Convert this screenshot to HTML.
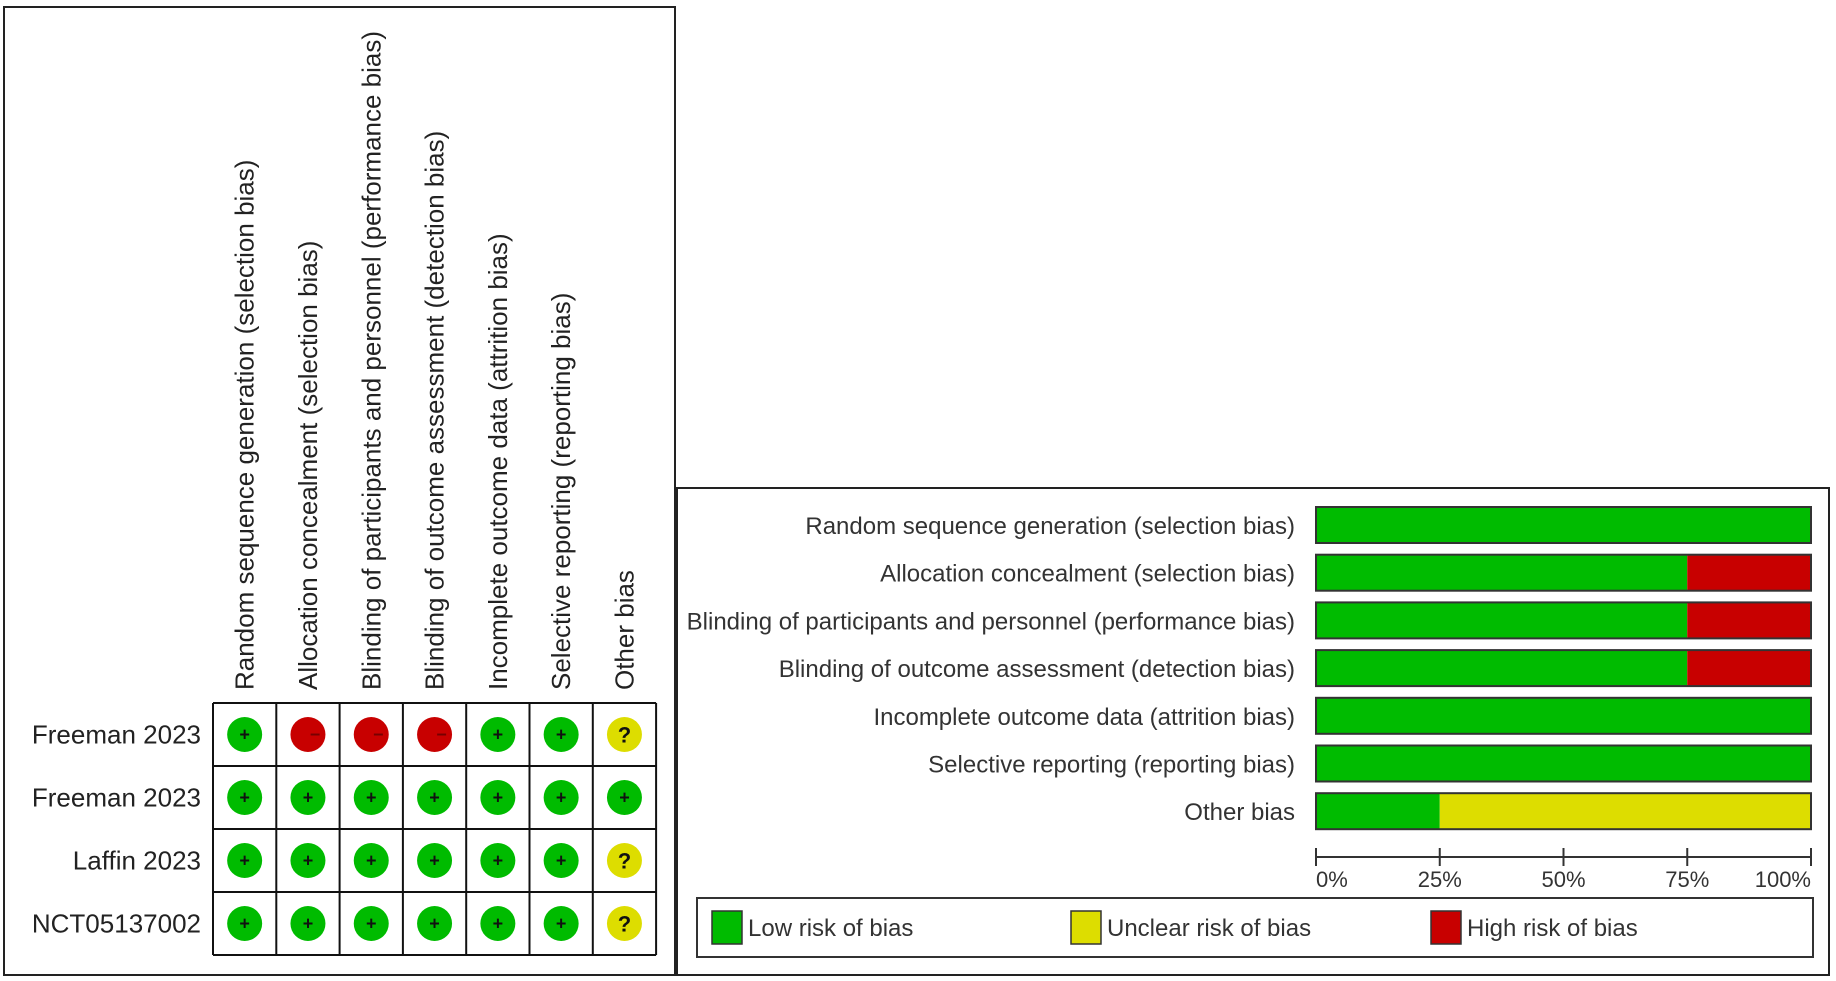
<!DOCTYPE html>
<html><head><meta charset="utf-8"><style>
html,body{margin:0;padding:0;background:#fff;}
svg{display:block;font-family:"Liberation Sans",Arial,sans-serif;}
</style></head><body>
<svg id="chart" width="1836" height="981" viewBox="0 0 1836 981" xmlns="http://www.w3.org/2000/svg">
<rect x="4" y="7" width="671" height="968" fill="#fff" stroke="#222" stroke-width="2"/>
<rect x="677" y="488" width="1152" height="487" fill="#fff" stroke="#222" stroke-width="2"/>
<g id="summary"></g>
<g id="graph"></g>
</svg>
<script>
const domains = ["Random sequence generation (selection bias)","Allocation concealment (selection bias)","Blinding of participants and personnel (performance bias)","Blinding of outcome assessment (detection bias)","Incomplete outcome data (attrition bias)","Selective reporting (reporting bias)","Other bias"];
const studies = ["Freeman 2023","Freeman  2023","Laffin 2023","NCT05137002"];
const judgments = [
  ["+","-","-","-","+","+","?"],
  ["+","+","+","+","+","+","+"],
  ["+","+","+","+","+","+","?"],
  ["+","+","+","+","+","+","?"]
];
const lowPct = [100,75,75,75,100,100,25];
const unclearPct = [0,0,0,0,0,0,75];
const highPct = [0,25,25,25,0,0,0];
const tickLabels = ["0%","25%","50%","75%","100%"];
const tickValues = [0,25,50,75,100];
const legendLabels = ["Low risk of bias","Unclear risk of bias","High risk of bias"];

const NS="http://www.w3.org/2000/svg";
const C={low:"#00bb00",unclear:"#dddd00",high:"#c80000"};
function mk(tag,attrs,parent,text){const e=document.createElementNS(NS,tag);for(const k in attrs)e.setAttribute(k,attrs[k]);if(text!==undefined)e.textContent=text;parent.appendChild(e);return e;}

// Summary grid
const sg=document.getElementById('summary');
const gx0=213, gy0=703, cw=63.3, rh=63;
const colX=i=>gx0+cw*i, rowY=j=>gy0+rh*j;
domains.forEach((d,i)=>{
  const cx=colX(i)+cw/2+9, by=690;
  const t=mk('text',{x:cx,y:by,transform:`rotate(-90 ${cx} ${by})`,'font-size':26,fill:'#222'},sg,d);
  
  
});
studies.forEach((s,j)=>{
  const t=mk('text',{x:201,y:rowY(j)+rh/2+9,'text-anchor':'end','font-size':26,fill:'#222'},sg,s);
  
  
  judgments[j].forEach((v,i)=>{
    const cx=colX(i)+cw/2, cy=rowY(j)+rh/2;
    const col=v==="+"?C.low:v==="-"?C.high:C.unclear;
    const c=mk('circle',{cx:cx,cy:cy,r:17.5,fill:col},sg);
    
    
    const sym=v==="?"?"?":v==="+"?"+":"−";
    mk('text',{x:v==="-"?cx+7:cx,y:cy+(v==="?"?8:6),'text-anchor':'middle','font-size':v==="?"?22:18,'font-weight':'bold',fill:v==="-"?"#700":"#111"},sg,sym);
  });
});
for(let i=0;i<=domains.length;i++){const l=mk('line',{x1:colX(i),y1:gy0,x2:colX(i),y2:rowY(studies.length),stroke:'#111','stroke-width':2},sg);}
for(let j=0;j<=studies.length;j++){const l=mk('line',{x1:gx0,y1:rowY(j),x2:colX(domains.length),y2:rowY(j),stroke:'#111','stroke-width':2},sg);}

// Graph
const gg=document.getElementById('graph');
const ax0=1316, ax1=1811;
const xS=v=>ax0+(ax1-ax0)*v/100;
const barTop=i=>507+47.7*i, bh=36;
domains.forEach((d,i)=>{
  const y=barTop(i);
  const t=mk('text',{x:1295,y:y+bh/2+9,'text-anchor':'end','font-size':24,fill:'#333'},gg,d);
  
  
  let acc=0;
  [[lowPct[i],C.low,'low'],[unclearPct[i],C.unclear,'unclear'],[highPct[i],C.high,'high']].forEach(([v,col,nm])=>{
    if(v>0){
      const r=mk('rect',{x:xS(acc),y:y,width:xS(acc+v)-xS(acc),height:bh,fill:col},gg);
      
      
    }
    acc+=v;
  });
  mk('rect',{x:xS(0),y:y,width:xS(100)-xS(0),height:bh,fill:'none',stroke:'#333','stroke-width':2},gg);
});
const axl=mk('line',{x1:ax0,y1:857,x2:ax1,y2:857,stroke:'#333','stroke-width':2},gg);


tickValues.forEach((v,k)=>{
  mk('line',{x1:xS(v),y1:848,x2:xS(v),y2:866,stroke:'#333','stroke-width':2},gg);
  const t=mk('text',{x:xS(v),y:887,'text-anchor':k===0?'start':k===4?'end':'middle','font-size':22,fill:'#333'},gg,tickLabels[k]);
  
  
});
const lg=mk('rect',{x:697,y:898,width:1116,height:59,fill:'#fff',stroke:'#333','stroke-width':2},gg);


[[712,C.low],[1071,C.unclear],[1431,C.high]].forEach(([x,col],k)=>{
  const s=mk('rect',{x:x,y:911,width:30,height:33,fill:col,stroke:'#333','stroke-width':1.5},gg);
  
  
  const t=mk('text',{x:x+36,y:936,'font-size':24,fill:'#333'},gg,legendLabels[k]);
  
  
});
</script>
</body></html>
